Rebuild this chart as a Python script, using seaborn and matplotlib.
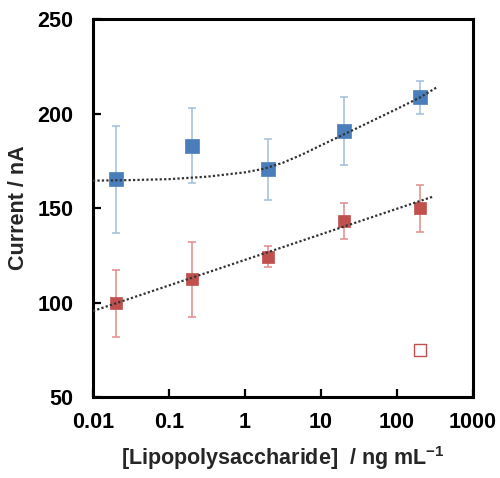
import numpy as np
import pandas as pd
import matplotlib
matplotlib.use("Agg")
import matplotlib.pyplot as plt
import seaborn as sns

# concentrations (ng/mL)
conc = [0.02, 0.2, 2, 20, 200]

blue_mean = [165.2, 183.0, 170.5, 190.9, 208.6]
blue_err = [28.4, 20.0, 16.0, 18.0, 8.7]

red_mean = [99.5, 112.3, 124.3, 143.1, 149.8]
red_err = [17.5, 19.8, 5.5, 9.5, 12.5]

# control (open square)
ctrl_conc = [200]
ctrl_val = [75]

# trend lines
blue_trend_x = [0.01, 0.0316, 0.1, 0.316, 1.0, 1.78, 3.16, 5.62, 10.0, 31.6, 100.0, 200.0, 331.0]
blue_trend_y = [164.5, 164.8, 165.3, 166.6, 168.9, 170.8, 174.0, 178.3, 183.2, 192.8, 202.5, 208.5, 213.8]
red_trend_x = [0.01, 295.0]
red_trend_y = [95.5, 156.0]

xticks = [0.01, 0.1, 1, 10, 100, 1000]
xticklabels = ["0.01", "0.1", "1", "10", "100", "1000"]
yticks = [50, 100, 150, 200, 250]

BLUE = "#4A7EBB"
BLUE_ERR = "#A2BEDD"
RED = "#C0504D"
RED_ERR = "#E38C8C"

sns.set_style("ticks")
plt.rcParams["font.family"] = ["Liberation Sans", "DejaVu Sans"]
plt.rcParams["font.weight"] = "bold"
plt.rcParams["mathtext.fontset"] = "custom"
plt.rcParams["mathtext.rm"] = "Liberation Sans:bold"
plt.rcParams["mathtext.bf"] = "Liberation Sans:bold"

fig = plt.figure(figsize=(5.0, 4.78), dpi=100)
ax = fig.add_axes([0.186, 0.1695, 0.760, 0.7905])

ax.errorbar(conc, blue_mean, yerr=blue_err, fmt="none", ecolor=BLUE_ERR,
            elinewidth=1.1, capsize=3, capthick=1.1, zorder=1)
ax.errorbar(conc, red_mean, yerr=red_err, fmt="none", ecolor=RED_ERR,
            elinewidth=1.1, capsize=3, capthick=1.1, zorder=1)

df_blue = pd.DataFrame({"x": conc, "y": blue_mean})
df_red = pd.DataFrame({"x": conc, "y": red_mean})
df_ctrl = pd.DataFrame({"x": ctrl_conc, "y": ctrl_val})

sns.scatterplot(data=df_blue, x="x", y="y", ax=ax, marker="s", s=90,
                color=BLUE, edgecolor=BLUE, linewidth=0.5, zorder=2)
sns.scatterplot(data=df_red, x="x", y="y", ax=ax, marker="s", s=75,
                color=RED, edgecolor=RED, linewidth=0.5, zorder=2)
sns.scatterplot(data=df_ctrl, x="x", y="y", ax=ax, marker="s", s=70,
                facecolor="white", edgecolor=RED, linewidth=1.0, zorder=2)

df_bt = pd.DataFrame({"x": blue_trend_x, "y": blue_trend_y})
df_rt = pd.DataFrame({"x": red_trend_x, "y": red_trend_y})
sns.lineplot(data=df_bt, x="x", y="y", ax=ax, color="#333333",
             linestyle=(0, (1, 1)), linewidth=1.6, zorder=3, sort=False)
sns.lineplot(data=df_rt, x="x", y="y", ax=ax, color="#333333",
             linestyle=(0, (1, 1)), linewidth=1.6, zorder=3, sort=False)

ax.set_xscale("log")
ax.set_xlim(0.01, 1000)
ax.set_ylim(50, 250)
ax.set_xticks(xticks)
ax.set_xticklabels(xticklabels)
ax.set_yticks(yticks)
ax.minorticks_off()

ax.tick_params(axis="both", direction="in", length=6, width=1.6,
               labelsize=15.5, colors="black")
ax.tick_params(axis="y", pad=14)
ax.tick_params(axis="x", pad=11)
for lab in ax.get_xticklabels() + ax.get_yticklabels():
    lab.set_fontweight("bold")

for sp in ax.spines.values():
    sp.set_linewidth(2.2)
    sp.set_color("black")

ax.set_xlabel(r"[Lipopolysaccharide]  / ng mL$^{\mathbf{-1}}$",
              fontsize=15.5, fontweight="bold", labelpad=8)
ax.set_ylabel("Current / nA", fontsize=15.5, fontweight="bold", labelpad=6)

fig.savefig("out.png", dpi=100)
